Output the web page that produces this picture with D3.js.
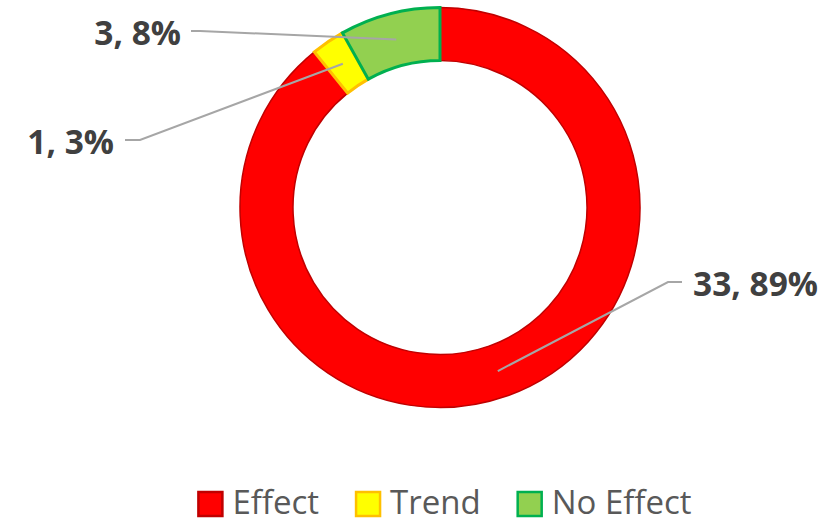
<!DOCTYPE html>
<html>
<head>
<meta charset="utf-8">
<script src="https://cdn.jsdelivr.net/npm/d3@7"></script>
<style>
  html, body { margin: 0; padding: 0; background: #fff; }
  svg { display: block; }
</style>
</head>
<body>
<svg id="chart" width="827" height="523"></svg>
<script>
// Outcome counts
const categories = ["Effect", "Trend", "No Effect"];
const counts = [33, 1, 3];
const percentLabels = ["89%", "3%", "8%"];

const fills = ["#FF0000", "#FFFF00", "#92D050"];
const strokes = ["#C00000", "#FFC000", "#00B050"];
const strokeWidths = [1.5, 3, 3];

const W = 827, H = 523;
const cx = 440, cy = 207.5;
const outerR = 200, innerR = 147;

const svg = d3.select("#chart");
const g = svg.append("g").attr("transform", `translate(${cx},${cy})`);

const data = categories.map((c, i) => ({ name: c, value: counts[i], i }));

const pie = d3.pie().sort(null).value(d => d.value);
const arcs = pie(data);

const arc = d3.arc().innerRadius(innerR).outerRadius(outerR);
const midArc = d3.arc().innerRadius((innerR + outerR) / 2).outerRadius((innerR + outerR) / 2);

g.selectAll("path.slice")
  .data(arcs)
  .join("path")
  .attr("class", "slice")
  .attr("d", arc)
  .attr("fill", d => fills[d.data.i])
  .attr("stroke", d => strokes[d.data.i])
  .attr("stroke-width", d => strokeWidths[d.data.i])
  .attr("stroke-linejoin", "miter");

// Leader line bends and label anchors (absolute page coordinates)
const labelLayout = [
  { elbow: [668, 282], end: [682, 282], text: [693, 283], anchor: "start" },
  { elbow: [140, 140], end: [125, 140], text: [114, 141], anchor: "end" },
  { elbow: [200, 31], end: [191, 31], text: [181, 32], anchor: "end" }
];

const labels = svg.append("g");
arcs.forEach(a => {
  const c = midArc.centroid(a);
  const L = labelLayout[a.data.i];
  const pts = [[cx + c[0], cy + c[1]], L.elbow, L.end];
  labels.append("path")
    .attr("d", d3.line()(pts))
    .attr("fill", "none")
    .attr("stroke", "#A6A6A6")
    .attr("stroke-width", 2);
  labels.append("text")
    .attr("x", L.text[0])
    .attr("y", L.text[1])
    .attr("text-anchor", L.anchor)
    .attr("dominant-baseline", "central")
    .attr("font-family", "'Open Sans', sans-serif")
    .attr("font-weight", "bold")
    .attr("font-size", 33.5)
    .attr("fill", "#404040")
    .text(`${a.data.value}, ${percentLabels[a.data.i]}`);
});

// Legend
const legend = svg.append("g");
const box = 24, gapText = 10, gapItem = 37;
const baseline = 514;
const items = categories.map((c, i) => {
  const gi = legend.append("g");
  gi.append("rect")
    .attr("x", 0).attr("y", baseline - 22)
    .attr("width", box).attr("height", box)
    .attr("fill", fills[i])
    .attr("stroke", strokes[i])
    .attr("stroke-width", 2.5);
  const t = gi.append("text")
    .attr("x", box + gapText)
    .attr("y", baseline)
    .attr("font-family", "'Open Sans', sans-serif")
    .attr("font-size", 33)
    .attr("fill", "#595959")
    .text(c);
  return { gi, w: box + gapText + t.node().getComputedTextLength() };
});
const total = d3.sum(items, d => d.w) + gapItem * (items.length - 1);
let x0 = 445 - total / 2;
items.forEach(it => {
  it.gi.attr("transform", `translate(${x0},0)`);
  x0 += it.w + gapItem;
});
</script>
</body>
</html>
